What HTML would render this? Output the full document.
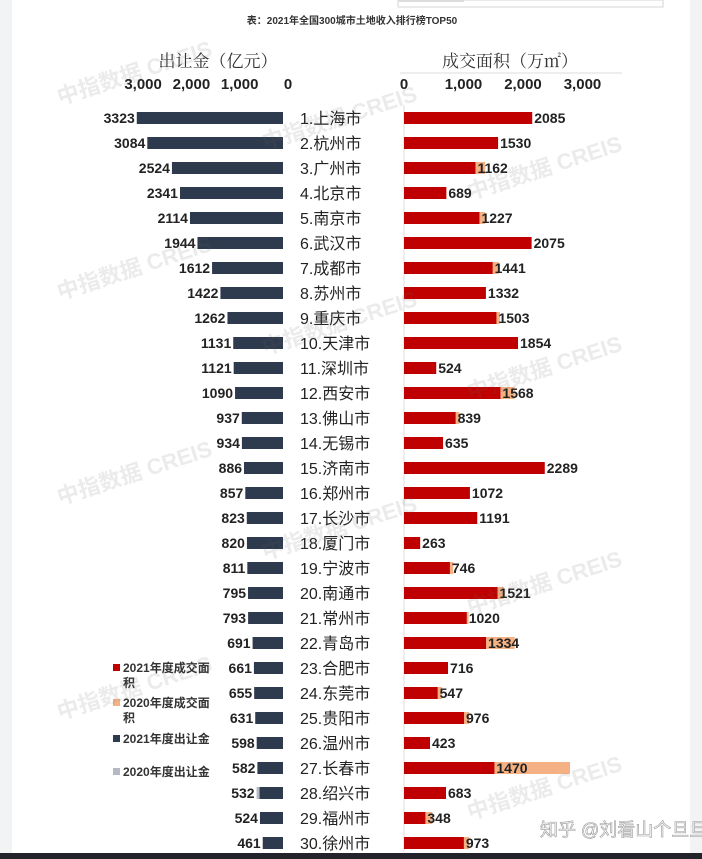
<!DOCTYPE html>
<html><head><meta charset="utf-8">
<style>
html,body{margin:0;padding:0;background:#fff;}
body{width:702px;height:859px;overflow:hidden;position:relative;font-family:"Liberation Sans","Noto Sans CJK SC",sans-serif;}
svg{position:absolute;left:0;top:0;}
</style></head>
<body>
<svg id="chart" width="702" height="859" viewBox="0 0 702 859">
  <rect x="0" y="0" width="702" height="859" fill="#fff"/>
  <rect x="0" y="0" width="12" height="859" fill="#f2f3f5"/>
  <rect x="690" y="0" width="12" height="859" fill="#f2f3f5"/>
  <rect x="398" y="0" width="265" height="7" fill="#fff" stroke="#ccc" stroke-width="0.8"/>
  <rect x="398" y="0" width="66" height="2" fill="#ddd"/>
  <rect x="0" y="853" width="702" height="6" fill="#23232b"/>
  <text x="352" y="24" font-size="10" font-weight="bold" fill="#333" text-anchor="middle" font-family="Liberation Sans,Noto Sans CJK SC,sans-serif">表：2021年全国300城市土地收入排行榜TOP50</text>
  <text x="218" y="67" font-size="17" fill="#333" text-anchor="middle" font-family="Liberation Serif,Noto Serif CJK SC,serif">出让金（亿元）</text>
  <text x="510" y="67" font-size="17" fill="#333" text-anchor="middle" font-family="Liberation Serif,Noto Serif CJK SC,serif">成交面积（万㎡）</text>
  <line x1="400" y1="73" x2="622" y2="73" stroke="#ddd"/>
  <line x1="404" y1="105" x2="404" y2="852" stroke="#ddd"/>
  <g id="g"></g>
  <g id="legend">
    <rect x="113" y="664" width="7" height="7" fill="#c00000"/>
    <text x="123" y="672" font-size="12" font-weight="bold" fill="#333">2021年度成交面</text>
    <text x="123" y="687" font-size="12" font-weight="bold" fill="#333">积</text>
    <rect x="113" y="699" width="7" height="7" fill="#f4b183"/>
    <text x="123" y="707" font-size="12" font-weight="bold" fill="#333">2020年度成交面</text>
    <text x="123" y="722" font-size="12" font-weight="bold" fill="#333">积</text>
    <rect x="113" y="735" width="7" height="7" fill="#2e3a4e"/>
    <text x="123" y="743" font-size="12" font-weight="bold" fill="#333">2021年度出让金</text>
    <rect x="113" y="768" width="7" height="7" fill="#b4b9c4"/>
    <text x="123" y="776" font-size="12" font-weight="bold" fill="#333">2020年度出让金</text>
  </g>
  <g opacity="0.13" fill="#666" font-size="22" font-weight="bold">
    <text transform="translate(60,105) rotate(-18)">中指数据 CREIS</text>
    <text transform="translate(60,300) rotate(-18)">中指数据 CREIS</text>
    <text transform="translate(60,505) rotate(-18)">中指数据 CREIS</text>
    <text transform="translate(60,720) rotate(-18)">中指数据 CREIS</text>
    <text transform="translate(265,355) rotate(-18)">中指数据 CREIS</text>
    <text transform="translate(265,560) rotate(-18)">中指数据 CREIS</text>
    <text transform="translate(265,150) rotate(-18)">中指数据 CREIS</text>
    <text transform="translate(470,200) rotate(-18)">中指数据 CREIS</text>
    <text transform="translate(470,400) rotate(-18)">中指数据 CREIS</text>
    <text transform="translate(470,615) rotate(-18)">中指数据 CREIS</text>
    <text transform="translate(470,820) rotate(-18)">中指数据 CREIS</text>
  </g>
  <text x="540" y="836" font-size="18" fill="#fff" stroke="#999" stroke-width="0.6" font-family="Liberation Sans,Noto Sans CJK SC,sans-serif">知乎 @刘看山个旦旦</text>
</svg>
<script>
const cities = ["上海市","杭州市","广州市","北京市","南京市","武汉市","成都市","苏州市","重庆市","天津市","深圳市","西安市","佛山市","无锡市","济南市","郑州市","长沙市","厦门市","宁波市","南通市","常州市","青岛市","合肥市","东莞市","贵阳市","温州市","长春市","绍兴市","福州市","徐州市"];
const land2021 = [3323,3084,2524,2341,2114,1944,1612,1422,1262,1131,1121,1090,937,934,886,857,823,820,811,795,793,691,661,655,631,598,582,532,524,461];
const land2020 = [3000,2800,2300,2200,2000,1800,1500,1300,1200,1000,1000,1000,900,900,800,800,800,800,800,700,700,650,600,600,600,550,550,600,500,400];
const area2021 = [2085,1530,1162,689,1227,2075,1441,1332,1503,1854,524,1568,839,635,2289,1072,1191,263,746,1521,1020,1334,716,547,976,423,1470,683,348,973];
const area2020 = [1900,1400,1320,600,1320,1900,1540,1200,1560,1700,450,1800,900,600,2000,1000,1100,230,800,1620,1050,1800,650,620,1060,380,2700,600,460,1060];
const leftTicks = [3000,2000,1000,0];
const rightTicks = [0,1000,2000,3000];
const leftTickLabels = ["3,000","2,000","1,000","0"];
const rightTickLabels = ["0","1,000","2,000","3,000"];

const NS="http://www.w3.org/2000/svg";
const g=document.getElementById('g');
const xL = v => 283 - v*0.044;
const xLt = v => 288 - v*0.0483;
const xR = v => 404 + v*0.0615;
const xRt = v => 404 + v*0.0595;
const yRow = i => 118 + i*25.0;
function el(tag, attrs, text){const e=document.createElementNS(NS,tag);for(const k in attrs)e.setAttribute(k,attrs[k]);if(text!==undefined)e.textContent=text;g.appendChild(e);return e;}

leftTicks.forEach((t,i)=>{
  const e=el('text',{x:xLt(t),y:89,'font-size':15,'font-weight':'bold',fill:'#222','text-anchor':'middle'},leftTickLabels[i]);
  
  
});
rightTicks.forEach((t,i)=>{
  const e=el('text',{x:xRt(t),y:89,'font-size':15,'font-weight':'bold',fill:'#222','text-anchor':'middle'},rightTickLabels[i]);
  
  
});
cities.forEach((c,i)=>{
  const y=yRow(i);
  const g20=el('rect',{x:xL(land2020[i]),y:y-6,width:283-xL(land2020[i]),height:12,fill:'#b4b9c4'});
  
  
  const b=el('rect',{x:xL(land2021[i]),y:y-6,width:283-xL(land2021[i]),height:12,fill:'#2e3a4e'});
  
  
  const lv=el('text',{x:Math.min(xL(land2021[i]),xL(land2020[i]))-2,y:y+5,'font-size':14,'font-weight':'bold',fill:'#222','text-anchor':'end'},String(land2021[i]));
  
  
  const cl=el('text',{x:300,y:y+6,'font-size':16,fill:'#222'},(i+1)+'.'+c);
  
  
  const o=el('rect',{x:404,y:y-6,width:xR(area2020[i])-404,height:12,fill:'#f4b183'});
  
  
  const r=el('rect',{x:404,y:y-6,width:xR(area2021[i])-404,height:12,fill:'#c00000'});
  
  
  const rv=el('text',{x:xR(area2021[i])+2,y:y+5,'font-size':14,'font-weight':'bold',fill:'#222'},String(area2021[i]));
  
  
});
</script>
</body></html>
